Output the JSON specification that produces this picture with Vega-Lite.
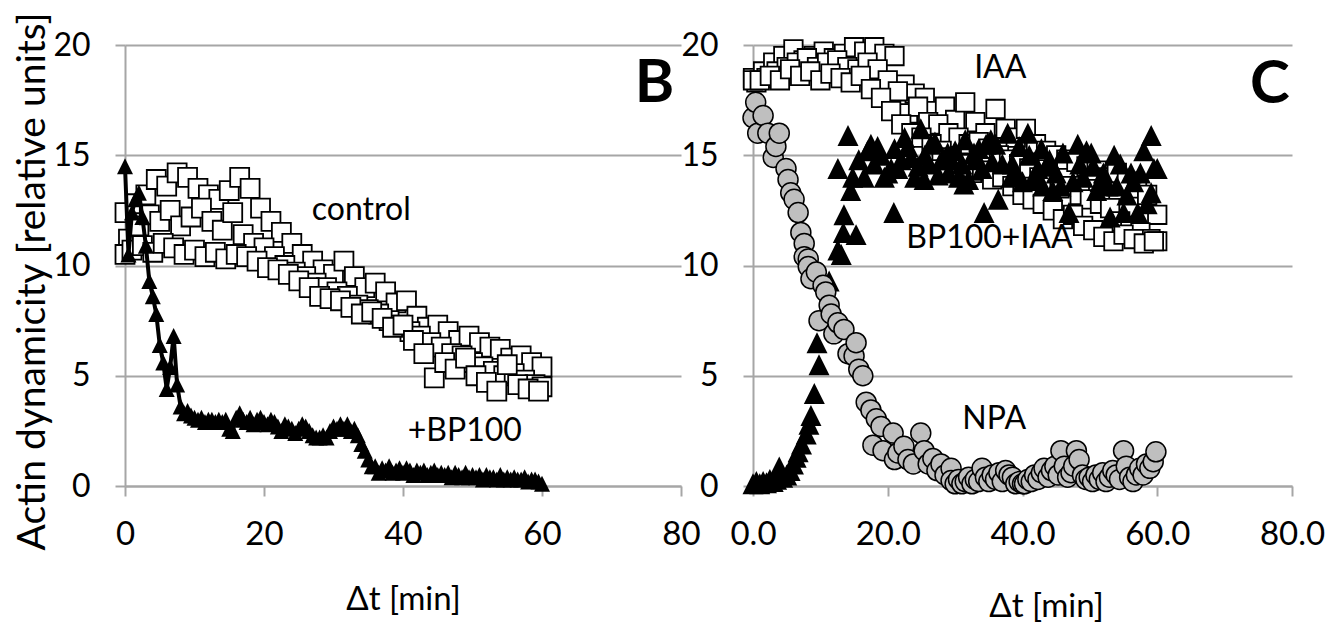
{
"$schema": "https://vega.github.io/schema/vega-lite/v6.json",
"padding": {"left": 12, "top": 11, "right": 0, "bottom": 0},
"background": "white",
"spacing": 72,
"bounds": "flush",
"config": {
  "font": "Lato",
  "view": {"stroke": null},
  "axis": {"labelFont": "Lato", "titleFont": "Lato", "labelColor": "black", "titleColor": "black", "titleFontWeight": "normal", "gridColor": "#a6a6a6", "gridWidth": 2, "gridOpacity": 1, "domainColor": "#a6a6a6", "domainWidth": 2, "tickColor": "#a6a6a6", "tickWidth": 2, "tickSize": 10, "labelFlush": false, "labelOverlap": false}
},
"datasets": {
  "control": [
    {"t":0,"v":12.4},{"t":1.5,"v":12.8},{"t":3,"v":13.2},{"t":4.5,"v":13.9},{"t":6,"v":13.6},{"t":7.5,"v":14.2},{"t":9,"v":14.0},{"t":10.5,"v":13.5},{"t":12,"v":13.2},{"t":13.5,"v":13.0},{"t":15,"v":13.4},{"t":16.5,"v":14.0},{"t":18,"v":13.5},{"t":19.5,"v":12.6},{"t":21,"v":12.0},{"t":22.5,"v":11.5},{"t":24,"v":11.0},{"t":25.5,"v":10.5},{"t":27,"v":10.2},{"t":28.5,"v":9.8},{"t":30,"v":9.6},{"t":31.5,"v":10.2},{"t":33,"v":9.5},{"t":34.5,"v":9.0},{"t":36,"v":9.2},{"t":37.5,"v":8.8},{"t":39,"v":8.3},{"t":40.5,"v":8.4},{"t":42,"v":7.7},{"t":43.5,"v":7.2},{"t":45,"v":7.3},{"t":46.5,"v":7.0},{"t":48,"v":6.6},{"t":49.5,"v":6.8},{"t":51,"v":6.5},{"t":52.5,"v":6.3},{"t":54,"v":6.2},{"t":55.5,"v":5.8},{"t":57,"v":5.9},{"t":58.5,"v":5.6},{"t":60,"v":5.4},
    {"t":0.5,"v":11.2},{"t":2,"v":11.8},{"t":3.5,"v":12.3},{"t":5,"v":12.0},{"t":6.5,"v":12.5},{"t":8,"v":11.8},{"t":9.5,"v":12.2},{"t":11,"v":12.6},{"t":12.5,"v":12.0},{"t":14,"v":11.6},{"t":15.5,"v":12.4},{"t":17,"v":11.4},{"t":18.5,"v":11.0},{"t":20,"v":10.8},{"t":21.5,"v":10.4},{"t":23,"v":10.0},{"t":24.5,"v":9.7},{"t":26,"v":9.5},{"t":27.5,"v":9.2},{"t":29,"v":9.0},{"t":30.5,"v":8.8},{"t":32,"v":8.6},{"t":33.5,"v":8.2},{"t":35,"v":8.0},{"t":36.5,"v":7.8},{"t":38,"v":7.5},{"t":39.5,"v":7.3},{"t":41,"v":7.0},{"t":42.5,"v":6.8},{"t":44,"v":6.5},{"t":45.5,"v":6.3},{"t":47,"v":6.0},{"t":48.5,"v":5.9},{"t":50,"v":5.6},{"t":51.5,"v":5.4},{"t":53,"v":5.2},{"t":54.5,"v":5.0},{"t":56,"v":5.1},{"t":57.5,"v":4.8},{"t":59,"v":4.6},{"t":60,"v":4.5},
    {"t":0,"v":10.5},{"t":1,"v":10.7},{"t":2.5,"v":10.9},{"t":4,"v":10.6},{"t":5.5,"v":11.0},{"t":7,"v":10.8},{"t":8.5,"v":10.5},{"t":10,"v":10.7},{"t":11.5,"v":10.4},{"t":13,"v":10.6},{"t":14.5,"v":10.3},{"t":16,"v":10.5},{"t":17.5,"v":10.4},{"t":19,"v":10.2},{"t":20.5,"v":9.9},{"t":22,"v":9.8},{"t":23.5,"v":9.6},{"t":25,"v":9.3},{"t":26.5,"v":9.0},{"t":28,"v":8.6},{"t":29.5,"v":8.5},{"t":31,"v":8.4},{"t":32.5,"v":8.1},{"t":34,"v":7.8},{"t":35.5,"v":7.9},{"t":37,"v":7.6},{"t":38.5,"v":7.2},{"t":40,"v":7.3},{"t":41.5,"v":6.6},{"t":43,"v":6.0},{"t":44.5,"v":4.9},{"t":46,"v":5.6},{"t":47.5,"v":5.3},{"t":49,"v":5.8},{"t":50.5,"v":5.0},{"t":52,"v":4.7},{"t":53.5,"v":4.3},{"t":55,"v":5.5},{"t":56.5,"v":4.6},{"t":58,"v":4.4},{"t":59.5,"v":4.3}
  ],
  "bp100": [
    {"t":0,"v":14.5},{"t":0.5,"v":10.5},{"t":1,"v":12.4},{"t":1.5,"v":13.0},{"t":2,"v":13.3},{"t":2.5,"v":12.2},{"t":3,"v":10.9},{"t":3.5,"v":9.3},{"t":4,"v":8.6},{"t":4.5,"v":7.8},{"t":5,"v":6.4},{"t":5.5,"v":5.6},{"t":6,"v":4.4},{"t":6.5,"v":5.4},{"t":7,"v":6.8},{"t":7.5,"v":4.6},{"t":8,"v":3.6},{"t":8.5,"v":3.3},{"t":9,"v":3.4},{"t":9.5,"v":3.2},{"t":10,"v":3.1},{"t":10.5,"v":3.0},{"t":11,"v":3.1},{"t":11.5,"v":2.9},{"t":12,"v":3.0},{"t":12.5,"v":3.0},{"t":13,"v":2.9},{"t":13.5,"v":3.0},{"t":14,"v":2.9},{"t":14.5,"v":3.0},{"t":15,"v":2.6},{"t":15.5,"v":2.5},{"t":16,"v":3.1},{"t":16.5,"v":3.3},{"t":17,"v":3.0},{"t":17.5,"v":2.9},{"t":18,"v":3.1},{"t":18.5,"v":2.8},{"t":19,"v":3.0},{"t":19.5,"v":3.1},{"t":20,"v":2.9},{"t":20.5,"v":2.8},{"t":21,"v":3.0},{"t":21.5,"v":2.9},{"t":22,"v":2.7},{"t":22.5,"v":2.5},{"t":23,"v":2.8},{"t":23.5,"v":2.7},{"t":24,"v":2.6},{"t":24.5,"v":2.4},{"t":25,"v":2.6},{"t":25.5,"v":2.8},{"t":26,"v":2.7},{"t":26.5,"v":2.5},{"t":27,"v":2.3},{"t":27.5,"v":2.2},{"t":28,"v":2.2},{"t":28.5,"v":2.3},{"t":29,"v":2.2},{"t":29.5,"v":2.5},{"t":30,"v":2.7},{"t":30.5,"v":2.6},{"t":31,"v":2.8},{"t":31.5,"v":2.6},{"t":32,"v":2.8},{"t":32.5,"v":2.5},{"t":33,"v":2.6},{"t":33.5,"v":2.3},{"t":34,"v":1.9},{"t":34.5,"v":1.6},{"t":35,"v":1.2},{"t":35.5,"v":0.9},{"t":36,"v":0.9},{"t":36.5,"v":0.6},{"t":37,"v":0.8},{"t":37.5,"v":0.7},{"t":38,"v":0.9},{"t":38.5,"v":0.6},{"t":39,"v":0.7},{"t":39.5,"v":0.8},{"t":40,"v":0.6},{"t":40.5,"v":0.8},{"t":41,"v":0.7},{"t":41.5,"v":0.5},{"t":42,"v":0.7},{"t":42.5,"v":0.6},{"t":43,"v":0.7},{"t":43.5,"v":0.5},{"t":44,"v":0.6},{"t":44.5,"v":0.7},{"t":45,"v":0.5},{"t":45.5,"v":0.6},{"t":46,"v":0.5},{"t":46.5,"v":0.6},{"t":47,"v":0.4},{"t":47.5,"v":0.6},{"t":48,"v":0.5},{"t":48.5,"v":0.4},{"t":49,"v":0.6},{"t":49.5,"v":0.4},{"t":50,"v":0.5},{"t":50.5,"v":0.4},{"t":51,"v":0.5},{"t":51.5,"v":0.3},{"t":52,"v":0.5},{"t":52.5,"v":0.4},{"t":53,"v":0.4},{"t":53.5,"v":0.3},{"t":54,"v":0.5},{"t":54.5,"v":0.3},{"t":55,"v":0.4},{"t":55.5,"v":0.3},{"t":56,"v":0.4},{"t":56.5,"v":0.3},{"t":57,"v":0.3},{"t":57.5,"v":0.4},{"t":58,"v":0.2},{"t":58.5,"v":0.3},{"t":59,"v":0.3},{"t":59.5,"v":0.2},{"t":60,"v":0.1}
  ],
  "labelsB": [{"t":34.0,"v":12.5,"label":"control"},{"t":48.9,"v":2.49,"label":"+BP100"}],
  "letterB": [{"t":76.2,"v":18.24,"label":"B"}],
  "iaa": [
    {"t":0,"v":18.5},{"t":1.5,"v":18.8},{"t":3,"v":19.2},{"t":4.5,"v":19.5},{"t":6,"v":19.8},{"t":7.5,"v":19.3},{"t":9,"v":19.5},{"t":10.5,"v":19.7},{"t":12,"v":19.4},{"t":13.5,"v":19.6},{"t":15,"v":19.9},{"t":16.5,"v":19.7},{"t":18,"v":19.9},{"t":19.5,"v":19.6},{"t":21,"v":19.5},{"t":22.5,"v":18.2},{"t":24,"v":17.8},{"t":25.5,"v":17.6},{"t":27,"v":17.0},{"t":28.5,"v":17.2},{"t":30,"v":16.6},{"t":31.5,"v":17.4},{"t":33,"v":16.5},{"t":34.5,"v":16.0},{"t":36,"v":17.1},{"t":37.5,"v":16.2},{"t":39,"v":15.8},{"t":40.5,"v":16.2},{"t":42,"v":15.5},{"t":43.5,"v":15.2},{"t":45,"v":15.0},{"t":46.5,"v":14.8},{"t":48,"v":14.7},{"t":49.5,"v":14.5},{"t":51,"v":14.3},{"t":52.5,"v":14.0},{"t":54,"v":14.2},{"t":55.5,"v":13.8},{"t":57,"v":13.5},{"t":58.5,"v":13.2},{"t":60,"v":12.3},
    {"t":0.5,"v":18.3},{"t":2,"v":18.5},{"t":3.5,"v":18.8},{"t":5,"v":19.0},{"t":6.5,"v":19.2},{"t":8,"v":19.4},{"t":9.5,"v":19.0},{"t":11,"v":19.2},{"t":12.5,"v":19.3},{"t":14,"v":19.0},{"t":15.5,"v":18.9},{"t":17,"v":19.2},{"t":18.5,"v":18.9},{"t":20,"v":18.4},{"t":21.5,"v":17.9},{"t":23,"v":16.9},{"t":24.5,"v":17.2},{"t":26,"v":16.5},{"t":27.5,"v":16.4},{"t":29,"v":16.0},{"t":30.5,"v":15.8},{"t":32,"v":15.5},{"t":33.5,"v":15.6},{"t":35,"v":15.3},{"t":36.5,"v":15.0},{"t":38,"v":14.8},{"t":39.5,"v":14.6},{"t":41,"v":14.4},{"t":42.5,"v":14.0},{"t":44,"v":13.8},{"t":45.5,"v":13.5},{"t":47,"v":13.6},{"t":48.5,"v":13.2},{"t":50,"v":13.0},{"t":51.5,"v":12.8},{"t":53,"v":12.6},{"t":54.5,"v":12.0},{"t":56,"v":11.8},{"t":57.5,"v":11.5},{"t":59,"v":11.2},{"t":60,"v":11.1},
    {"t":0,"v":18.4},{"t":1,"v":18.4},{"t":2.5,"v":18.6},{"t":4,"v":18.4},{"t":5.5,"v":18.9},{"t":7,"v":18.6},{"t":8.5,"v":18.8},{"t":10,"v":18.4},{"t":11.5,"v":18.7},{"t":13,"v":18.5},{"t":14.5,"v":18.3},{"t":16,"v":18.6},{"t":17.5,"v":18.0},{"t":19,"v":17.6},{"t":20.5,"v":17.0},{"t":22,"v":16.4},{"t":23.5,"v":16.0},{"t":25,"v":15.8},{"t":26.5,"v":15.5},{"t":28,"v":15.2},{"t":29.5,"v":14.9},{"t":31,"v":14.6},{"t":32.5,"v":14.2},{"t":34,"v":14.3},{"t":35.5,"v":13.9},{"t":37,"v":14.0},{"t":38.5,"v":13.6},{"t":40,"v":13.2},{"t":41.5,"v":13.0},{"t":43,"v":12.8},{"t":44.5,"v":12.5},{"t":46,"v":12.1},{"t":47.5,"v":12.3},{"t":49,"v":11.8},{"t":50.5,"v":11.6},{"t":52,"v":11.3},{"t":53.5,"v":11.1},{"t":55,"v":11.4},{"t":56.5,"v":11.2},{"t":58,"v":11.0},{"t":59.5,"v":11.1}
  ],
  "bpiaa": [
    {"t":0,"v":0.1},{"t":0.5,"v":0.2},{"t":1.0,"v":0.1},{"t":1.5,"v":0.2},{"t":2.0,"v":0.15},{"t":2.5,"v":0.3},{"t":3.0,"v":0.2},{"t":3.5,"v":0.3},{"t":3.9,"v":0.86},{"t":4.4,"v":0.4},{"t":5.0,"v":0.5},{"t":5.5,"v":0.7},{"t":6.0,"v":1.0},{"t":6.4,"v":1.3},{"t":6.7,"v":1.55},{"t":7.2,"v":1.9},{"t":7.9,"v":2.36},{"t":8.3,"v":2.8},{"t":8.6,"v":3.2},{"t":9.1,"v":4.2},{"t":9.5,"v":6.5},{"t":9.8,"v":5.5},{"t":11.3,"v":9.3},{"t":12.6,"v":10.7},{"t":12.6,"v":14.4},{"t":13.1,"v":10.5},{"t":13.4,"v":11.5},{"t":13.5,"v":12.3},{"t":14.1,"v":15.9},{"t":14.5,"v":13.4},{"t":14.8,"v":14.0},{"t":15.3,"v":11.4},{"t":15.7,"v":14.8},{"t":16.5,"v":14.0},{"t":17,"v":15.2},{"t":17.5,"v":15.5},{"t":18,"v":14.6},{"t":18.5,"v":15.4},{"t":19,"v":15.0},{"t":19.5,"v":14.0},{"t":20,"v":14.2},{"t":20.5,"v":14.4},{"t":20.9,"v":12.4},{"t":21,"v":15.3},{"t":21.5,"v":14.4},{"t":22,"v":14.8},{"t":22.5,"v":15.8},{"t":23,"v":15.4},{"t":23.5,"v":14.9},{"t":24,"v":14.0},{"t":24.5,"v":14.5},{"t":24.9,"v":16.2},{"t":25.4,"v":13.9},{"t":25.5,"v":15.0},{"t":26,"v":14.6},{"t":26.4,"v":15.5},{"t":27,"v":15.6},{"t":27.5,"v":14.1},{"t":28,"v":14.8},{"t":28.9,"v":15.1},{"t":29,"v":14.2},{"t":29.4,"v":14.8},{"t":30,"v":15.2},{"t":30.5,"v":14.0},{"t":31,"v":14.6},{"t":31.3,"v":13.7},{"t":31.5,"v":15.7},{"t":32,"v":13.9},{"t":32.8,"v":15.1},{"t":33,"v":14.8},{"t":33.5,"v":15.3},{"t":34,"v":14.4},{"t":34.3,"v":12.4},{"t":34.6,"v":15.5},{"t":35.3,"v":15.7},{"t":35.5,"v":14.7},{"t":36,"v":15.5},{"t":36.4,"v":13.0},{"t":37,"v":14.6},{"t":37.8,"v":16.0},{"t":38.3,"v":14.0},{"t":38.5,"v":14.6},{"t":39,"v":14.2},{"t":39.5,"v":15.4},{"t":40,"v":13.8},{"t":40.8,"v":16.0},{"t":41,"v":15.0},{"t":41.5,"v":13.9},{"t":42,"v":14.2},{"t":42.3,"v":14.4},{"t":42.8,"v":15.3},{"t":43,"v":13.6},{"t":43.5,"v":14.5},{"t":44,"v":14.8},{"t":44.5,"v":13.4},{"t":45,"v":14.2},{"t":45.7,"v":13.6},{"t":46,"v":15.1},{"t":46.9,"v":12.4},{"t":47.5,"v":13.8},{"t":48.2,"v":15.5},{"t":48.5,"v":14.6},{"t":49,"v":14.0},{"t":49.5,"v":15.2},{"t":50.2,"v":15.1},{"t":50.5,"v":14.5},{"t":51,"v":13.4},{"t":51.5,"v":13.8},{"t":52,"v":14.2},{"t":52.7,"v":13.6},{"t":53,"v":12.2},{"t":53.6,"v":15.0},{"t":54,"v":13.6},{"t":54.5,"v":14.6},{"t":55,"v":12.4},{"t":55.5,"v":13.2},{"t":56.1,"v":14.2},{"t":56.5,"v":13.8},{"t":57.1,"v":12.4},{"t":57.5,"v":14.2},{"t":58,"v":15.2},{"t":58.5,"v":12.8},{"t":59.1,"v":15.9},{"t":59.1,"v":13.3},{"t":59.5,"v":14.4},{"t":60,"v":14.4}
  ],
  "npa": [
    {"t":0,"v":16.7},{"t":0.4,"v":17.4},{"t":0.7,"v":16.0},{"t":1.5,"v":16.8},{"t":2.2,"v":16.0},{"t":3.0,"v":14.9},{"t":3.4,"v":15.4},{"t":3.9,"v":16.0},{"t":4.9,"v":14.4},{"t":5.2,"v":13.9},{"t":5.6,"v":13.3},{"t":6.1,"v":13.0},{"t":6.7,"v":12.4},{"t":7.1,"v":11.5},{"t":7.6,"v":11.0},{"t":7.6,"v":10.4},{"t":8.2,"v":10.3},{"t":8.2,"v":9.95},{"t":8.6,"v":9.4},{"t":9.4,"v":9.7},{"t":9.8,"v":7.5},{"t":10.4,"v":9.1},{"t":10.8,"v":8.8},{"t":11.3,"v":8.2},{"t":11.6,"v":7.8},{"t":12.0,"v":6.9},{"t":12.6,"v":7.4},{"t":13.5,"v":7.1},{"t":14.1,"v":6.0},{"t":15.0,"v":5.9},{"t":15.3,"v":6.5},{"t":15.7,"v":5.3},{"t":16.3,"v":5.0},{"t":16.8,"v":3.8},{"t":17.5,"v":3.45},{"t":17.8,"v":1.85},{"t":18.3,"v":3.05},{"t":19.0,"v":2.7},{"t":19.3,"v":1.6},{"t":20.8,"v":2.4},{"t":21.0,"v":1.2},{"t":21.5,"v":1.5},{"t":22.4,"v":1.8},{"t":23.0,"v":1.2},{"t":23.8,"v":1.0},{"t":24.9,"v":2.4},{"t":25.4,"v":1.6},{"t":26.0,"v":1.0},{"t":26.7,"v":1.25},{"t":27.3,"v":0.7},{"t":27.9,"v":1.0},{"t":28.5,"v":0.5},{"t":29.4,"v":0.8},{"t":29.4,"v":0.25},{"t":30.0,"v":0.1},{"t":30.5,"v":0.3},{"t":31,"v":0.1},{"t":31.5,"v":0.2},{"t":32,"v":0.4},{"t":32.5,"v":0.1},{"t":33,"v":0.3},{"t":33.5,"v":0.2},{"t":34,"v":0.8},{"t":34.5,"v":0.4},{"t":35,"v":0.2},{"t":35.5,"v":0.5},{"t":36,"v":0.3},{"t":36.5,"v":0.6},{"t":37,"v":0.2},{"t":37.5,"v":0.7},{"t":38,"v":0.5},{"t":38.5,"v":0.4},{"t":39,"v":0.1},{"t":39.5,"v":0.2},{"t":40,"v":0.1},{"t":40.3,"v":0.1},{"t":40.8,"v":0.3},{"t":41.3,"v":0.2},{"t":41.8,"v":0.5},{"t":42.3,"v":0.3},{"t":42.8,"v":0.6},{"t":43.2,"v":0.8},{"t":43.8,"v":0.4},{"t":44.3,"v":0.7},{"t":44.8,"v":0.9},{"t":45.3,"v":0.5},{"t":45.7,"v":1.6},{"t":46.2,"v":0.9},{"t":46.7,"v":0.4},{"t":47.2,"v":0.6},{"t":47.6,"v":0.9},{"t":48.0,"v":1.6},{"t":48.4,"v":1.2},{"t":48.9,"v":0.5},{"t":49.4,"v":0.3},{"t":49.9,"v":0.4},{"t":50.4,"v":0.2},{"t":50.9,"v":0.5},{"t":51.4,"v":0.3},{"t":51.9,"v":0.6},{"t":52.4,"v":0.2},{"t":52.9,"v":0.4},{"t":53.4,"v":0.7},{"t":53.9,"v":0.5},{"t":54.4,"v":0.3},{"t":55.0,"v":1.6},{"t":55.4,"v":0.9},{"t":55.9,"v":0.4},{"t":56.4,"v":0.2},{"t":56.9,"v":0.5},{"t":57.4,"v":0.8},{"t":57.9,"v":0.5},{"t":58.4,"v":1.0},{"t":58.9,"v":0.8},{"t":59.4,"v":1.1},{"t":59.8,"v":1.55}
  ],
  "labelsC": [{"t":36.7,"v":18.95,"label":"IAA"},{"t":35.1,"v":11.23,"label":"BP100+IAA"},{"t":35.8,"v":3.05,"label":"NPA"}],
  "letterC": [{"t":76.7,"v":18.2,"label":"C"}]
},
"hconcat": [
  {
    "width": 556,
    "height": 441,
    "encoding": {
      "x": {"field": "t", "type": "quantitative", "scale": {"domain": [0, 80], "nice": false},
            "axis": {"title": "Δt [min]", "values": [0, 20, 40, 60, 80], "grid": false, "labelFontSize": 33, "labelPadding": 22, "titleFontSize": 33, "titleBaseline": "alphabetic", "titleY": 123, "format": "d"}},
      "y": {"field": "v", "type": "quantitative", "scale": {"domain": [0, 20], "nice": false},
            "axis": {"title": "Actin dynamicity [relative units]", "values": [0, 5, 10, 15, 20], "grid": true, "labelFontSize": 32, "labelPadding": 25, "titleFontSize": 39, "titleX": -81, "titleY": 236, "titleBaseline": "alphabetic", "titleAngle": -90, "titleAlign": "center", "format": "d"}}
    },
    "layer": [
      {"data": {"name": "control"}, "mark": {"type": "point", "shape": "square", "filled": true, "fill": "white", "stroke": "black", "strokeWidth": 1.8, "size": 360, "opacity": 1}},
      {"data": {"name": "bp100"}, "mark": {"type": "line", "color": "black", "strokeWidth": 4}},
      {"data": {"name": "bp100"}, "mark": {"type": "point", "shape": "M0,-1L1,1L-1,1Z", "filled": true, "color": "black", "size": 256, "opacity": 1}},
      {"data": {"name": "labelsB"}, "mark": {"type": "text", "font": "Lato", "fontSize": 32, "color": "black", "align": "center", "baseline": "middle"}, "encoding": {"text": {"field": "label"}}},
      {"data": {"name": "letterB"}, "mark": {"type": "text", "font": "Lato", "fontSize": 60, "fontWeight": "bold", "color": "black", "align": "center", "baseline": "middle"}, "encoding": {"text": {"field": "label"}}}
    ]
  },
  {
    "width": 539,
    "height": 441,
    "encoding": {
      "x": {"field": "t", "type": "quantitative", "scale": {"domain": [0, 80], "nice": false},
            "axis": {"title": "Δt [min]", "values": [0, 20, 40, 60, 80], "grid": false, "labelFontSize": 33, "labelPadding": 22, "titleFontSize": 33, "titleBaseline": "alphabetic", "titleY": 130, "titleX": 293, "format": ".1f"}},
      "y": {"field": "v", "type": "quantitative", "scale": {"domain": [0, 20], "nice": false},
            "axis": {"title": null, "values": [0, 5, 10, 15, 20], "grid": true, "labelFontSize": 32, "labelPadding": 25, "format": "d"}}
    },
    "layer": [
      {"data": {"name": "iaa"}, "mark": {"type": "point", "shape": "square", "filled": true, "fill": "white", "stroke": "black", "strokeWidth": 1.8, "size": 340, "opacity": 1}},
      {"data": {"name": "bpiaa"}, "mark": {"type": "point", "shape": "M0,-1L1,1L-1,1Z", "filled": true, "color": "black", "size": 440, "opacity": 1}},
      {"data": {"name": "npa"}, "mark": {"type": "point", "shape": "circle", "filled": true, "fill": "#bfbfbf", "stroke": "black", "strokeWidth": 1.5, "size": 400, "opacity": 1}},
      {"data": {"name": "labelsC"}, "mark": {"type": "text", "font": "Lato", "fontSize": 32, "color": "black", "align": "center", "baseline": "middle"}, "encoding": {"text": {"field": "label"}}},
      {"data": {"name": "letterC"}, "mark": {"type": "text", "font": "Lato", "fontSize": 60, "fontWeight": "bold", "color": "black", "align": "center", "baseline": "middle"}, "encoding": {"text": {"field": "label"}}}
    ]
  }
]
}
